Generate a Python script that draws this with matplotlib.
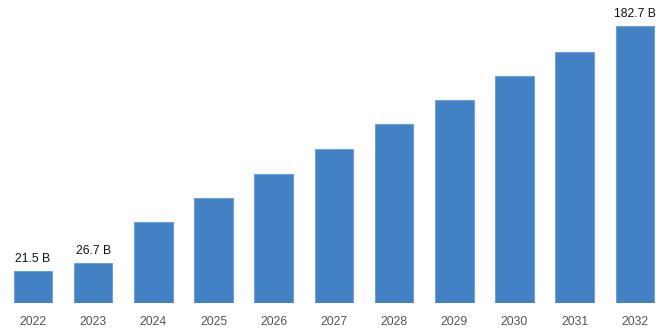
import matplotlib.pyplot as plt

# 数据
years = ['2022', '2023', '2024', '2025', '2026', '2027', '2028', '2029', '2030', '2031', '2032']
values = [21.5, 26.7, 53.5, 69.5, 85.5, 101.5, 118.0, 134.0, 150.0, 166.0, 182.7]
labels = {0: '21.5 B', 1: '26.7 B', 10: '182.7 B'}

plt.rcParams['font.family'] = ['Liberation Sans', 'DejaVu Sans']

fig = plt.figure(figsize=(6.68, 3.34), dpi=100)
ax = fig.add_axes([0, 0.092, 1, 0.908])

x = range(len(years))
bars = ax.bar(x, values, width=0.64, color='#4181c4', edgecolor='#73a0d4', linewidth=0.8)

for i, txt in labels.items():
    ax.text(i, values[i] + 4, txt, ha='center', va='bottom', fontsize=8.8, color='#111111')

ax.set_xlim(-0.548, 10.55)
ax.set_ylim(0, 200)
ax.set_xticks(list(x))
ax.set_xticklabels(years, fontsize=8.8, color='#555555')
ax.tick_params(axis='x', length=0, pad=9)
ax.set_yticks([])
for s in ax.spines.values():
    s.set_visible(False)

plt.savefig('out.png', dpi=100)
